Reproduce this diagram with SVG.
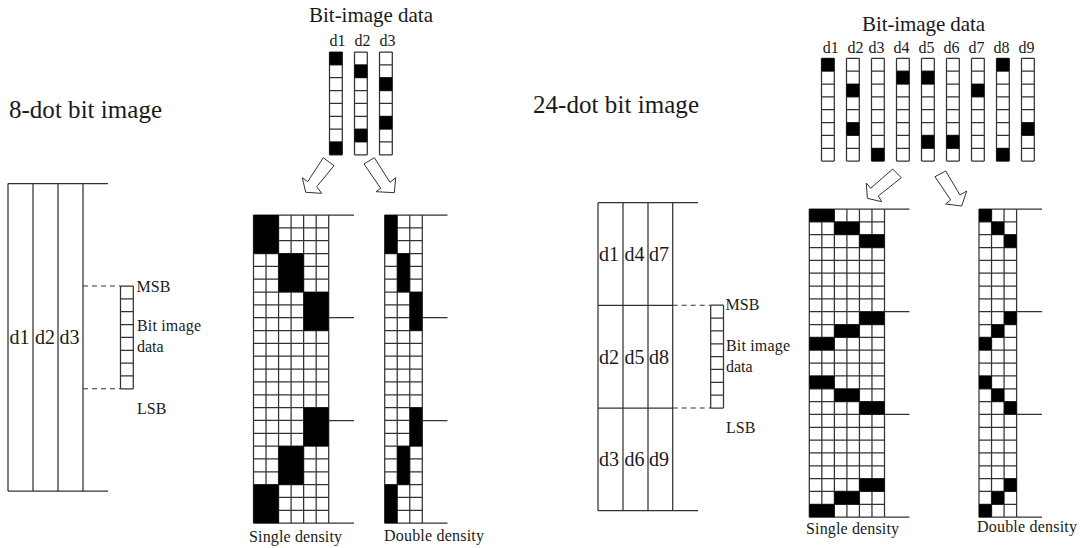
<svg xmlns="http://www.w3.org/2000/svg" xmlns:xlink="http://www.w3.org/1999/xlink" width="1080" height="548" viewBox="0 0 1080 548">
<style>
text{font-family:"Liberation Serif","Times New Roman",serif;fill:#1a1a1a}
.t{font-size:25px}.h{font-size:21px}.d{font-size:16px}.c{font-size:20px}.l{font-size:16px}
.ln{fill:none;stroke:#333;stroke-width:1.25}
.dash{fill:none;stroke:#333;stroke-width:1.1;stroke-dasharray:5 4}
.k{fill:#000;stroke:none}
.ar{fill:#fff;stroke:#333;stroke-width:1}
</style>
<defs>
<path id="g6" class="ln" d="M0 0V308.16M12.53 0V308.16M25.07 0V308.16M37.6 0V308.16M50.13 0V308.16M62.67 0V308.16M75.2 0V308.16M0 0h75.2M0 12.84h75.2M0 25.68h75.2M0 38.52h75.2M0 51.36h75.2M0 64.2h75.2M0 77.04h75.2M0 89.88h75.2M0 102.72h75.2M0 115.56h75.2M0 128.4h75.2M0 141.24h75.2M0 154.08h75.2M0 166.92h75.2M0 179.76h75.2M0 192.6h75.2M0 205.44h75.2M0 218.28h75.2M0 231.12h75.2M0 243.96h75.2M0 256.8h75.2M0 269.64h75.2M0 282.48h75.2M0 295.32h75.2M0 308.16h75.2"/>
<path id="g3" class="ln" d="M0 0V308.16M12.53 0V308.16M25.07 0V308.16M37.6 0V308.16M0 0h37.6M0 12.84h37.6M0 25.68h37.6M0 38.52h37.6M0 51.36h37.6M0 64.2h37.6M0 77.04h37.6M0 89.88h37.6M0 102.72h37.6M0 115.56h37.6M0 128.4h37.6M0 141.24h37.6M0 154.08h37.6M0 166.92h37.6M0 179.76h37.6M0 192.6h37.6M0 205.44h37.6M0 218.28h37.6M0 231.12h37.6M0 243.96h37.6M0 256.8h37.6M0 269.64h37.6M0 282.48h37.6M0 295.32h37.6M0 308.16h37.6"/>
<path id="col" class="ln" d="M0 0V102.8M12.8 0V102.8M0 0h12.8M0 12.85h12.8M0 25.7h12.8M0 38.55h12.8M0 51.4h12.8M0 64.25h12.8M0 77.1h12.8M0 89.95h12.8M0 102.8h12.8"/>
</defs>

<g id="title-8dot"><text class="t" x="9" y="118" textLength="153">8-dot bit image</text></g>
<g id="title-24dot"><text class="t" x="533" y="113" textLength="166">24-dot bit image</text></g>

<g id="layout-8dot">
<path class="ln" d="M8 183.5V491M33 183.5V491M58 183.5V491M83 183.5V491M8 183.5H108M8 491H108"/>
<text class="c" x="9.5" y="344">d1</text><text class="c" x="35" y="344">d2</text><text class="c" x="59.5" y="344">d3</text>
</g>
<g id="bits-8dot">
<use xlink:href="#col" href="#col" x="120.5" y="286"/>
<text class="l" x="136.5" y="292">MSB</text>
<text class="l" x="137" y="331" textLength="64">Bit image</text>
<text class="l" x="137" y="352">data</text>
<text class="l" x="137" y="414">LSB</text>
</g>

<g id="data-8dot">
<text class="h" x="309" y="22" textLength="124">Bit-image data</text>
<text class="d" x="329.5" y="46">d1</text><text class="d" x="354.5" y="46">d2</text><text class="d" x="379.5" y="46">d3</text>
<use xlink:href="#col" href="#col" x="329.5" y="52"/>
<use xlink:href="#col" href="#col" x="354.5" y="52"/>
<use xlink:href="#col" href="#col" x="379.5" y="52"/>
<rect class="k" x="329.5" y="52" width="12.8" height="12.85"/><rect class="k" x="329.5" y="141.95" width="12.8" height="12.85"/>
<rect class="k" x="354.5" y="64.85" width="12.8" height="12.85"/><rect class="k" x="354.5" y="129.1" width="12.8" height="12.85"/>
<rect class="k" x="379.5" y="77.7" width="12.8" height="12.85"/><rect class="k" x="379.5" y="116.25" width="12.8" height="12.85"/>
</g>

<g id="single-8dot">
<use xlink:href="#g6" href="#g6" x="253.5" y="215"/>
<path class="ln" d="M328.7 215H354M328.7 317.7H354M328.7 420.7H354M328.7 523.16H354"/>
<rect class="k" x="253.5" y="215" width="25.07" height="38.52"/>
<rect class="k" x="278.57" y="253.52" width="25.07" height="38.52"/>
<rect class="k" x="303.63" y="292.04" width="25.07" height="38.52"/>
<rect class="k" x="303.63" y="407.6" width="25.07" height="38.52"/>
<rect class="k" x="278.57" y="446.12" width="25.07" height="38.52"/>
<rect class="k" x="253.5" y="484.64" width="25.07" height="38.52"/>
<text class="l" x="249" y="541.5" textLength="93">Single density</text>
</g>

<g id="double-8dot">
<use xlink:href="#g3" href="#g3" x="384.7" y="215"/>
<path class="ln" d="M422.3 215H447.5M422.3 317.7H447.5M422.3 420.7H447.5M422.3 523.16H447.5"/>
<rect class="k" x="384.7" y="215" width="12.53" height="38.52"/>
<rect class="k" x="397.23" y="253.52" width="12.53" height="38.52"/>
<rect class="k" x="409.77" y="292.04" width="12.53" height="38.52"/>
<rect class="k" x="409.77" y="407.6" width="12.53" height="38.52"/>
<rect class="k" x="397.23" y="446.12" width="12.53" height="38.52"/>
<rect class="k" x="384.7" y="484.64" width="12.53" height="38.52"/>
<text class="l" x="384" y="540.5" textLength="100">Double density</text>
</g>

<g id="layout-24dot">
<path class="ln" d="M598 202.7V510.7M623 202.7V510.7M648 202.7V510.7M672.7 202.7V510.7M598 202.7H698M598 305.3H672.7M598 408H672.7M598 510.7H698"/>
<text class="c" x="599" y="261">d1</text><text class="c" x="624.5" y="261">d4</text><text class="c" x="649" y="261">d7</text>
<text class="c" x="599" y="364">d2</text><text class="c" x="624.5" y="364">d5</text><text class="c" x="649" y="364">d8</text>
<text class="c" x="599" y="466">d3</text><text class="c" x="624.5" y="466">d6</text><text class="c" x="649" y="466">d9</text>
</g>
<g id="bits-24dot">
<use xlink:href="#col" href="#col" x="710.7" y="305.2"/>
<text class="l" x="725.5" y="310">MSB</text>
<text class="l" x="726" y="351" textLength="64">Bit image</text>
<text class="l" x="726" y="372">data</text>
<text class="l" x="726" y="433">LSB</text>
</g>

<g id="data-24dot">
<text class="h" x="862" y="31" textLength="123">Bit-image data</text>
<text class="d" x="822.7" y="53">d1</text><text class="d" x="847.5" y="53">d2</text><text class="d" x="868.5" y="53">d3</text><text class="d" x="893.5" y="53">d4</text><text class="d" x="918.5" y="53">d5</text><text class="d" x="943.5" y="53">d6</text><text class="d" x="968.5" y="53">d7</text><text class="d" x="993.5" y="53">d8</text><text class="d" x="1018.5" y="53">d9</text>
<use xlink:href="#col" href="#col" x="821.5" y="58.3"/>
<use xlink:href="#col" href="#col" x="846.5" y="58.3"/>
<use xlink:href="#col" href="#col" x="871.5" y="58.3"/>
<use xlink:href="#col" href="#col" x="896.5" y="58.3"/>
<use xlink:href="#col" href="#col" x="921.5" y="58.3"/>
<use xlink:href="#col" href="#col" x="946.5" y="58.3"/>
<use xlink:href="#col" href="#col" x="971.5" y="58.3"/>
<use xlink:href="#col" href="#col" x="996.5" y="58.3"/>
<use xlink:href="#col" href="#col" x="1021.5" y="58.3"/>
<rect class="k" x="821.5" y="58.3" width="12.8" height="12.85"/>
<rect class="k" x="846.5" y="84" width="12.8" height="12.85"/><rect class="k" x="846.5" y="122.55" width="12.8" height="12.85"/>
<rect class="k" x="871.5" y="148.25" width="12.8" height="12.85"/>
<rect class="k" x="896.5" y="71.15" width="12.8" height="12.85"/>
<rect class="k" x="921.5" y="71.15" width="12.8" height="12.85"/><rect class="k" x="921.5" y="135.4" width="12.8" height="12.85"/>
<rect class="k" x="946.5" y="135.4" width="12.8" height="12.85"/>
<rect class="k" x="971.5" y="84" width="12.8" height="12.85"/>
<rect class="k" x="996.5" y="58.3" width="12.8" height="12.85"/><rect class="k" x="996.5" y="148.25" width="12.8" height="12.85"/>
<rect class="k" x="1021.5" y="122.55" width="12.8" height="12.85"/>
</g>

<g id="single-24dot">
<use xlink:href="#g6" href="#g6" x="809.3" y="209"/>
<path class="ln" d="M884.5 209H909.5M884.5 311.7H909.5M884.5 414.4H909.5M884.5 517.16H909.5"/>
<rect class="k" x="809.3" y="209" width="25.07" height="12.84"/>
<rect class="k" x="834.37" y="221.84" width="25.07" height="12.84"/>
<rect class="k" x="859.43" y="234.68" width="25.07" height="12.84"/>
<rect class="k" x="859.43" y="311.72" width="25.07" height="12.84"/>
<rect class="k" x="834.37" y="324.56" width="25.07" height="12.84"/>
<rect class="k" x="809.3" y="337.4" width="25.07" height="12.84"/>
<rect class="k" x="809.3" y="375.92" width="25.07" height="12.84"/>
<rect class="k" x="834.37" y="388.76" width="25.07" height="12.84"/>
<rect class="k" x="859.43" y="401.6" width="25.07" height="12.84"/>
<rect class="k" x="859.43" y="478.64" width="25.07" height="12.84"/>
<rect class="k" x="834.37" y="491.48" width="25.07" height="12.84"/>
<rect class="k" x="809.3" y="504.32" width="25.07" height="12.84"/>
<text class="l" x="806" y="533.5" textLength="93">Single density</text>
</g>

<g id="double-24dot">
<use xlink:href="#g3" href="#g3" x="979" y="209"/>
<path class="ln" d="M1016.6 209H1042M1016.6 311.7H1042M1016.6 414.4H1042M1016.6 517.16H1042"/>
<rect class="k" x="979" y="209" width="12.53" height="12.84"/>
<rect class="k" x="991.53" y="221.84" width="12.53" height="12.84"/>
<rect class="k" x="1004.07" y="234.68" width="12.53" height="12.84"/>
<rect class="k" x="1004.07" y="311.72" width="12.53" height="12.84"/>
<rect class="k" x="991.53" y="324.56" width="12.53" height="12.84"/>
<rect class="k" x="979" y="337.4" width="12.53" height="12.84"/>
<rect class="k" x="979" y="375.92" width="12.53" height="12.84"/>
<rect class="k" x="991.53" y="388.76" width="12.53" height="12.84"/>
<rect class="k" x="1004.07" y="401.6" width="12.53" height="12.84"/>
<rect class="k" x="1004.07" y="478.64" width="12.53" height="12.84"/>
<rect class="k" x="991.53" y="491.48" width="12.53" height="12.84"/>
<rect class="k" x="979" y="504.32" width="12.53" height="12.84"/>
<text class="l" x="977" y="532" textLength="100">Double density</text>
</g>

<g id="connectors">
<path class="dash" d="M83 286H120.5M83 388.8H120.5M672.7 305.3H710.7M672.7 408H710.7"/>
<polygon class="ar" points="323.3,157.7 334,165.7 316.7,186.7 321.7,193.3 305.7,192.3 302.3,177.7 307.7,181.7"/>
<polygon class="ar" points="364,164 374.3,157.7 390,182.3 395.7,177.7 394.3,192.7 376,191.7 380.7,188.3"/>
<polygon class="ar" points="892.7,169 901.3,177.7 878.3,196 881.7,201.7 867.3,198.3 866.3,183 870.7,188.3"/>
<polygon class="ar" points="935,176.7 945.7,171 960,195 966.7,191 961.7,206 945.7,204 950.7,200"/>
</g>
</svg>
